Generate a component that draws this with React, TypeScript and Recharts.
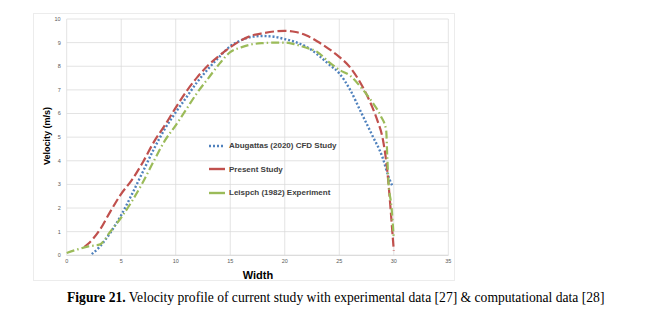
import React from "react";
import { LineChart, Line, XAxis, YAxis, CartesianGrid } from "recharts";

// Abugattas (2020) CFD study
const cfdWidth = [2.3, 3, 4, 5, 6, 7, 8, 9, 10, 11, 12, 13, 14, 15, 16, 17, 18, 19, 20, 21, 22, 23, 24, 25, 26, 27, 28, 29, 29.5, 29.9];
const cfdVelocity = [0.05, 0.35, 0.95, 1.7, 2.6, 3.55, 4.5, 5.35, 6.05, 6.7, 7.35, 7.9, 8.4, 8.85, 9.1, 9.25, 9.28, 9.25, 9.15, 9.02, 8.82, 8.5, 8.1, 7.7, 7.0, 6.05, 5.1, 4.1, 3.35, 2.9];

// present study
const presentWidth = [1.6, 2, 3, 4, 5, 6, 7, 8, 9, 10, 11, 12, 13, 14, 15, 16, 17, 18, 19, 20, 21, 22, 23, 24, 25, 26, 27, 28, 28.5, 29, 29.4, 29.7, 29.9, 30];
const presentVelocity = [0.35, 0.5, 1.05, 1.85, 2.6, 3.2, 3.95, 4.8, 5.5, 6.25, 6.95, 7.55, 8.05, 8.45, 8.8, 9.1, 9.3, 9.4, 9.47, 9.5, 9.45, 9.3, 9.05, 8.75, 8.4, 7.95, 7.25, 6.3, 5.7, 4.9, 3.6, 2.0, 0.8, 0.2];

// Leispch (1982) experiment
const expWidth = [0, 1, 2, 3, 4, 5, 6, 7, 8, 9, 10, 11, 12, 13, 14, 15, 16, 17, 18, 19, 20, 21, 22, 23, 24, 25, 26, 27, 28, 28.8, 29.3, 29.4, 29.5, 29.8, 30];
const expVelocity = [0.1, 0.25, 0.38, 0.45, 1.0, 1.6, 2.3, 3.1, 4.0, 4.85, 5.5, 6.2, 6.9, 7.5, 8.1, 8.6, 8.8, 8.93, 8.98, 9.0, 9.0, 8.92, 8.78, 8.6, 8.2, 7.85, 7.6, 7.1, 6.5, 5.9, 5.3, 4.2, 3.2, 2.0, 0.7];

const xTicks = [0, 5, 10, 15, 20, 25, 30, 35];
const yTicks = [0, 1, 2, 3, 4, 5, 6, 7, 8, 9, 10];

const toPoints = (xs: number[], vs: number[]) => xs.map((x, i) => ({ x, v: vs[i] }));

const BLUE = "#4f81bd";
const RED = "#c0504d";
const GREEN = "#9bbb59";

const sans = "'Liberation Sans', Arial, sans-serif";
const tickStyle = { fontSize: 5.5, fill: "#595959", fontFamily: sans };

const legendItems = [
  { name: "Abugattas (2020) CFD Study", color: BLUE, dash: "2 2" },
  { name: "Present Study", color: RED, dash: "" },
  { name: "Leispch (1982) Experiment", color: GREEN, dash: "" },
];

export default function App() {
  return (
    <div style={{ position: "absolute", left: 0, top: 0, width: 646, height: 316, background: "#fff" }}>
      <div style={{ position: "absolute", left: 33, top: 13, width: 422, height: 268, border: "1px solid #ececec", boxSizing: "border-box" }} />
      <LineChart width={646} height={316} margin={{ top: 19, right: 197.7, bottom: 40.7, left: 0 }}>
        <CartesianGrid stroke="#d9d9d9" strokeWidth={0.75} />
        <XAxis
          type="number"
          dataKey="x"
          domain={[0, 35]}
          ticks={xTicks}
          height={20}
          tick={tickStyle}
          tickLine={false}
          tickSize={0}
          tickMargin={4}
          axisLine={{ stroke: "#d9d9d9" }}
        />
        <YAxis
          type="number"
          dataKey="v"
          domain={[0, 10]}
          ticks={yTicks}
          width={66.7}
          tick={tickStyle}
          tickLine={false}
          tickSize={0}
          tickMargin={6}
          axisLine={false}
        />
        <Line data={toPoints(cfdWidth, cfdVelocity)} dataKey="v" type="monotone" stroke={BLUE} strokeWidth={2.4} strokeDasharray="2 2" dot={false} isAnimationActive={false} />
        <Line data={toPoints(presentWidth, presentVelocity)} dataKey="v" type="monotone" stroke={RED} strokeWidth={2.2} strokeDasharray="9 3.5" dot={false} isAnimationActive={false} />
        <Line data={toPoints(expWidth, expVelocity)} dataKey="v" type="monotone" stroke={GREEN} strokeWidth={2.2} strokeDasharray="8 3 1.5 3" dot={false} isAnimationActive={false} />
      </LineChart>

      {/* legend */}
      <div style={{ position: "absolute", left: 208, top: 134 }}>
        {legendItems.map((it) => (
          <div key={it.name} style={{ display: "flex", alignItems: "center", height: 23.5 }}>
            <svg width={18} height={6} style={{ marginRight: 3 }}>
              <line x1={1} y1={3} x2={17} y2={3} stroke={it.color} strokeWidth={2.4} strokeDasharray={it.dash || undefined} />
            </svg>
            <span style={{ fontFamily: sans, fontWeight: 700, fontSize: 8, color: "#404040", whiteSpace: "nowrap" }}>{it.name}</span>
          </div>
        ))}
      </div>

      {/* axis titles */}
      <div style={{ position: "absolute", left: 258, top: 275, transform: "translate(-50%, -50%)", fontFamily: sans, fontWeight: 700, fontSize: 11, color: "#000", whiteSpace: "nowrap" }}>
        Width
      </div>
      <div style={{ position: "absolute", left: 47, top: 136, transform: "translate(-50%, -50%) rotate(-90deg)", fontFamily: sans, fontWeight: 700, fontSize: 9, color: "#000", whiteSpace: "nowrap" }}>
        Velocity (m/s)
      </div>

      {/* caption */}
      <div style={{ position: "absolute", left: 67, top: 290, fontFamily: "'Liberation Serif', 'Times New Roman', serif", fontSize: 13.6, color: "#000", whiteSpace: "nowrap", lineHeight: "15px" }}>
        <b>Figure 21.</b> Velocity profile of current study with experimental data [27] &amp; computational data [28]
      </div>
    </div>
  );
}
